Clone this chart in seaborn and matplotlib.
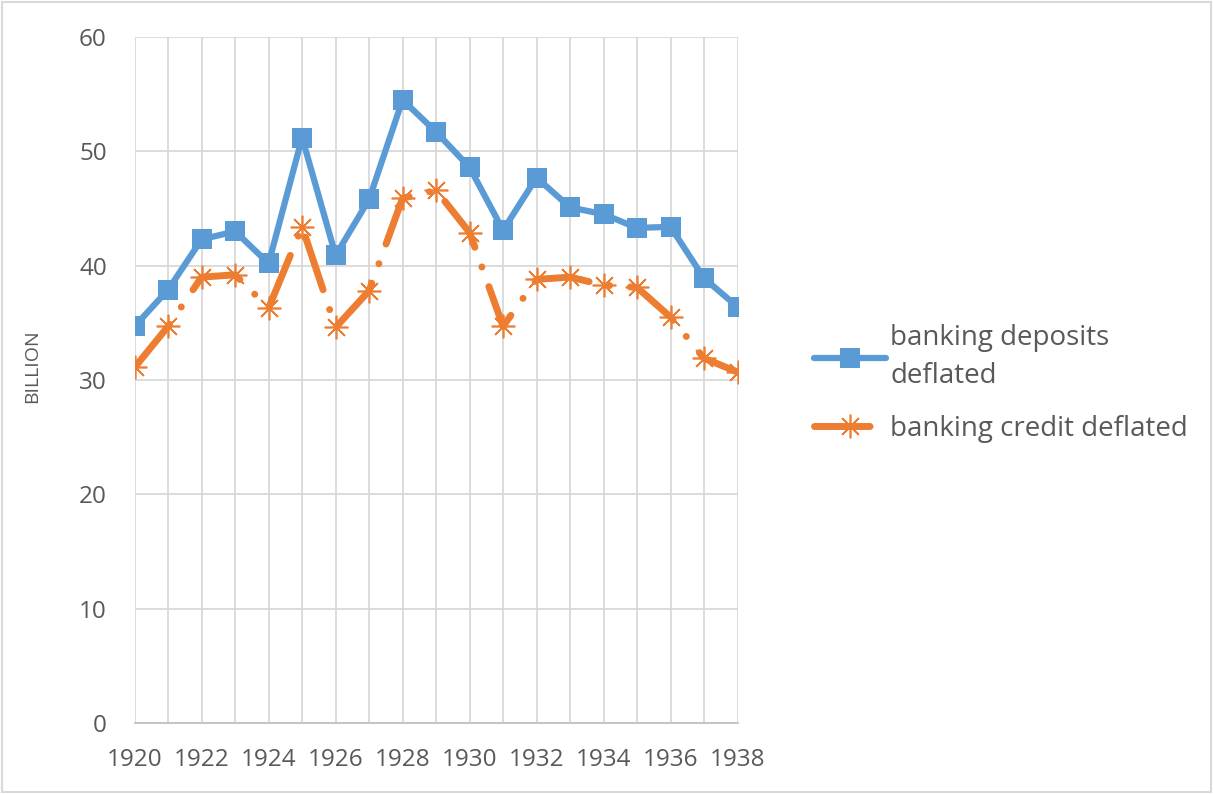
import pandas as pd
import matplotlib
matplotlib.use('Agg')
import matplotlib.pyplot as plt
import seaborn as sns

# data
years = list(range(1920, 1939))
deposits = [34.7, 37.9, 42.3, 43.0, 40.2, 51.2, 40.9, 45.8, 54.5, 51.7,
            48.6, 43.1, 47.7, 45.1, 44.5, 43.3, 43.4, 38.9, 36.4]
credit = [31.1, 34.7, 39.0, 39.2, 36.3, 43.4, 34.6, 37.8, 45.9, 46.6,
          42.9, 34.7, 38.8, 39.0, 38.3, 38.1, 35.5, 31.9, 30.7]

df = pd.DataFrame({'year': years, 'deposits': deposits, 'credit': credit})

sns.set_theme(style='white')
plt.rcParams['font.family'] = ['Open Sans', 'DejaVu Sans']

fig = plt.figure(figsize=(12.13, 7.94), dpi=100)
ax = fig.add_axes([0.111, 0.0894, 0.497, 0.864])

blue = '#5b9bd5'
orange = '#ed7d31'

sns.lineplot(data=df, x='year', y='deposits', ax=ax, color=blue, lw=4.5,
             marker='s', markersize=14, markeredgewidth=0,
             label='banking deposits\ndeflated')
sns.lineplot(data=df, x='year', y='credit', ax=ax, color=orange, lw=5,
             marker=(8, 2, 0), markersize=17, markeredgewidth=1.2,
             markeredgecolor=orange, dashes=False,
             label='banking credit deflated')
ln = ax.lines[1]
ln.set_linestyle((0, (8, 3, 0.01, 3)))
ln.set_dash_capstyle('round')

ax.set_xlim(1920, 1938)
ax.set_ylim(0, 60)
ax.set_xticks(range(1920, 1939, 2))
ax.set_xticks(range(1920, 1939), minor=True)
ax.set_yticks(range(0, 61, 10))
ax.grid(True, which='both', color='#d9d9d9', lw=1.3)
ax.set_axisbelow(True)
for s in ['top', 'right', 'left']:
    ax.spines[s].set_visible(False)
ax.spines['bottom'].set_color('#bfbfbf')
ax.tick_params(axis='both', which='both', length=0, labelsize=17.5, colors='#595959')
ax.tick_params(axis='x', pad=18)
ax.tick_params(axis='y', pad=20)
ax.set_xlabel('')
ax.set_ylabel('BILLION', fontsize=14, color='#595959')
ax.yaxis.set_label_coords(-0.155, 0.52)

leg = ax.legend(loc='center left', bbox_to_anchor=(1.085, 0.495), frameon=False,
                fontsize=20, labelcolor='#595959', handlelength=2.6,
                handletextpad=0.15, labelspacing=0.9)
for t in leg.get_texts():
    t.set_linespacing(1.45)

fig.patches.append(plt.Rectangle((0.002, 0.002), 0.996, 0.996, transform=fig.transFigure,
                                 fill=False, edgecolor='#d9d9d9', lw=1.5))

plt.savefig('out.png', dpi=100)
